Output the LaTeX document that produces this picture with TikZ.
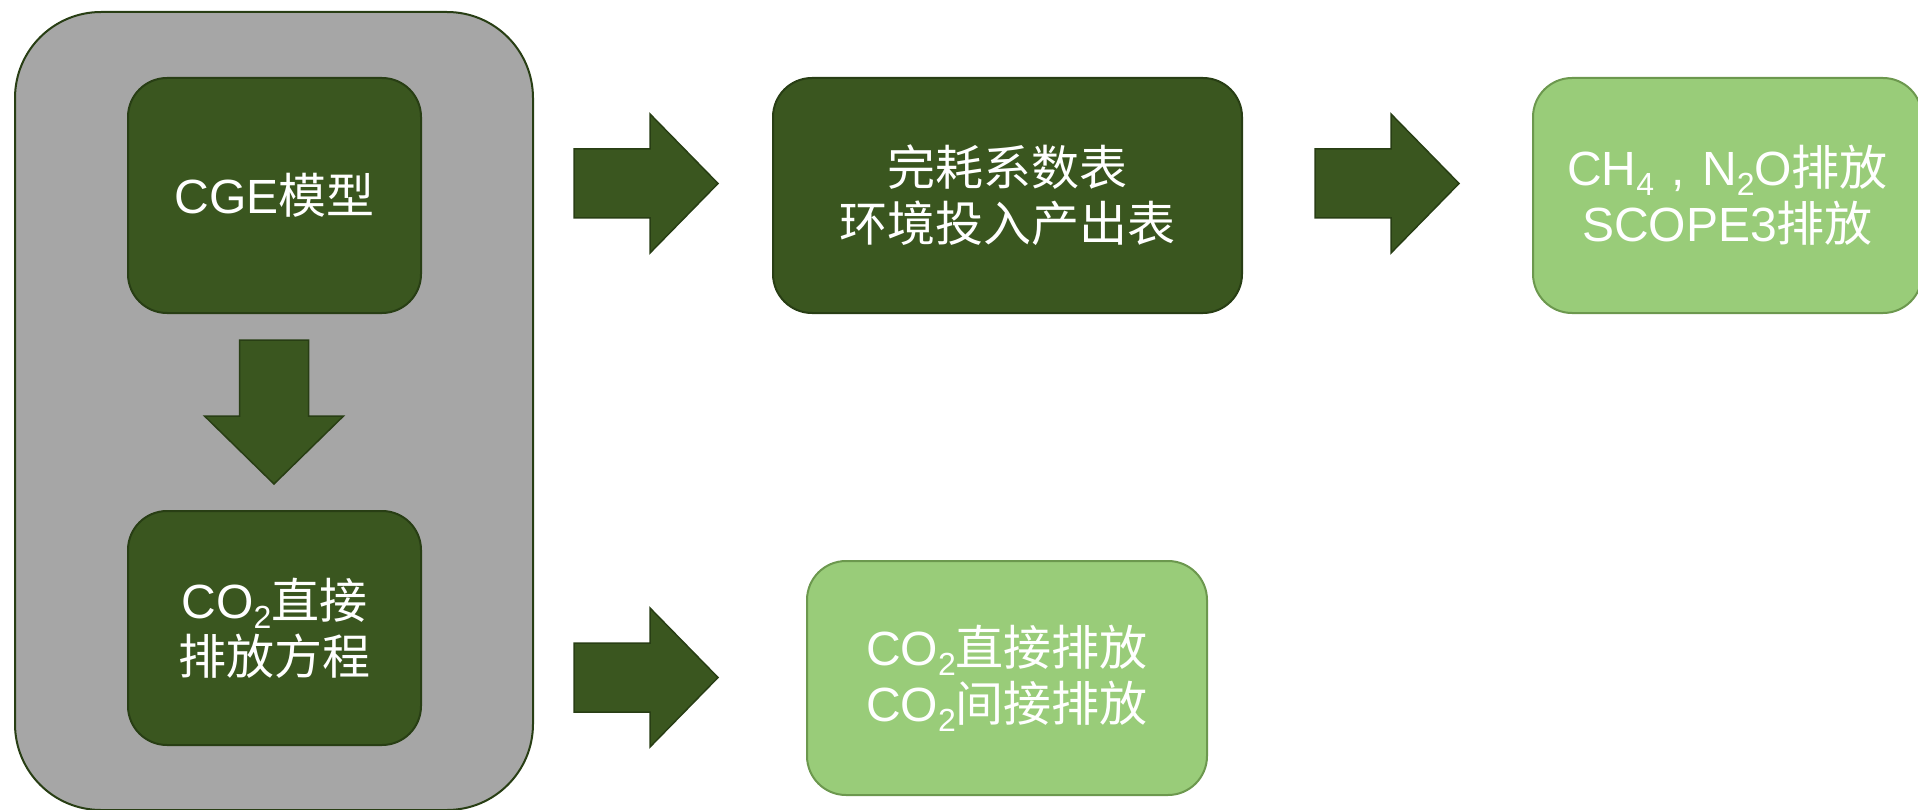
\documentclass[tikz,border=0pt]{standalone}
\usepackage{fontspec}
\setmainfont{Liberation Sans}
\newfontfamily\cjk{Noto Sans CJK SC}
\newcommand\sbs[1]{\raisebox{-10pt}{\fontsize{32}{32}\selectfont #1}}
\newcommand\widecomma{\makebox[1em][c]{,}}
\definecolor{dkgreen}{RGB}{58,86,31}
\definecolor{dkborder}{RGB}{40,62,20}
\definecolor{ltgreen}{RGB}{153,204,121}
\definecolor{ltborder}{RGB}{108,152,78}
\definecolor{grpgray}{RGB}{166,166,166}
\begin{document}
\begin{tikzpicture}[x=1pt,y=-1pt,
  box/.style={rounded corners=39pt, line width=2pt, inner sep=0pt, align=center,
    text=white, font=\fontsize{48}{56}\selectfont},
  darkbox/.style={box, fill=dkgreen, draw=dkborder},
  lightbox/.style={box, fill=ltgreen, draw=ltborder},
  groupbox/.style={rounded corners=86pt, line width=2pt, fill=grpgray, draw=dkborder},
  blockarrow/.style={fill=dkgreen, draw=dkborder, line width=1.5pt, line join=miter},
  rarrow/.pic={\draw[blockarrow] (0,-34.5) -- (76,-34.5) -- (76,-69.5) -- (144,0)
     -- (76,69.5) -- (76,34.5) -- (0,34.5) -- cycle;}
]
\useasboundingbox (0,0) rectangle (1918,810);
\node[groupbox, minimum width=518pt, minimum height=798pt] (group) at (274,411) {};
\node[darkbox, minimum width=293pt, minimum height=235pt] (cge) at (274.5,195.5) {CGE\cjk{模型}};
\node[darkbox, minimum width=293pt, minimum height=234pt] (co2eq) at (274.5,628) {CO\sbs{2}\cjk{直接}\\\cjk{排放方程}};
\node[darkbox, minimum width=469pt, minimum height=235pt] (tables) at (1007.5,195.5) {\cjk{完耗系数表}\\\cjk{环境投入产出表}};
\node[lightbox, minimum width=389pt, minimum height=235pt] (ch4) at (1727.5,195.5) {CH\sbs{4}\widecomma N\sbs{2}O\cjk{排放}\\SCOPE3\cjk{排放}};
\node[lightbox, minimum width=400pt, minimum height=234pt] (co2out) at (1007,678) {CO\sbs{2}\cjk{直接排放}\\CO\sbs{2}\cjk{间接排放}};
\coordinate (a1) at (574,183.5);
\coordinate (a2) at (1315,183.5);
\coordinate (a3) at (574,677.5);
\coordinate (a4) at (274,340);
\pic at (a1) {rarrow};
\pic at (a2) {rarrow};
\pic at (a3) {rarrow};
\pic[rotate=-90] at (a4) {rarrow};
\end{tikzpicture}
\end{document}
